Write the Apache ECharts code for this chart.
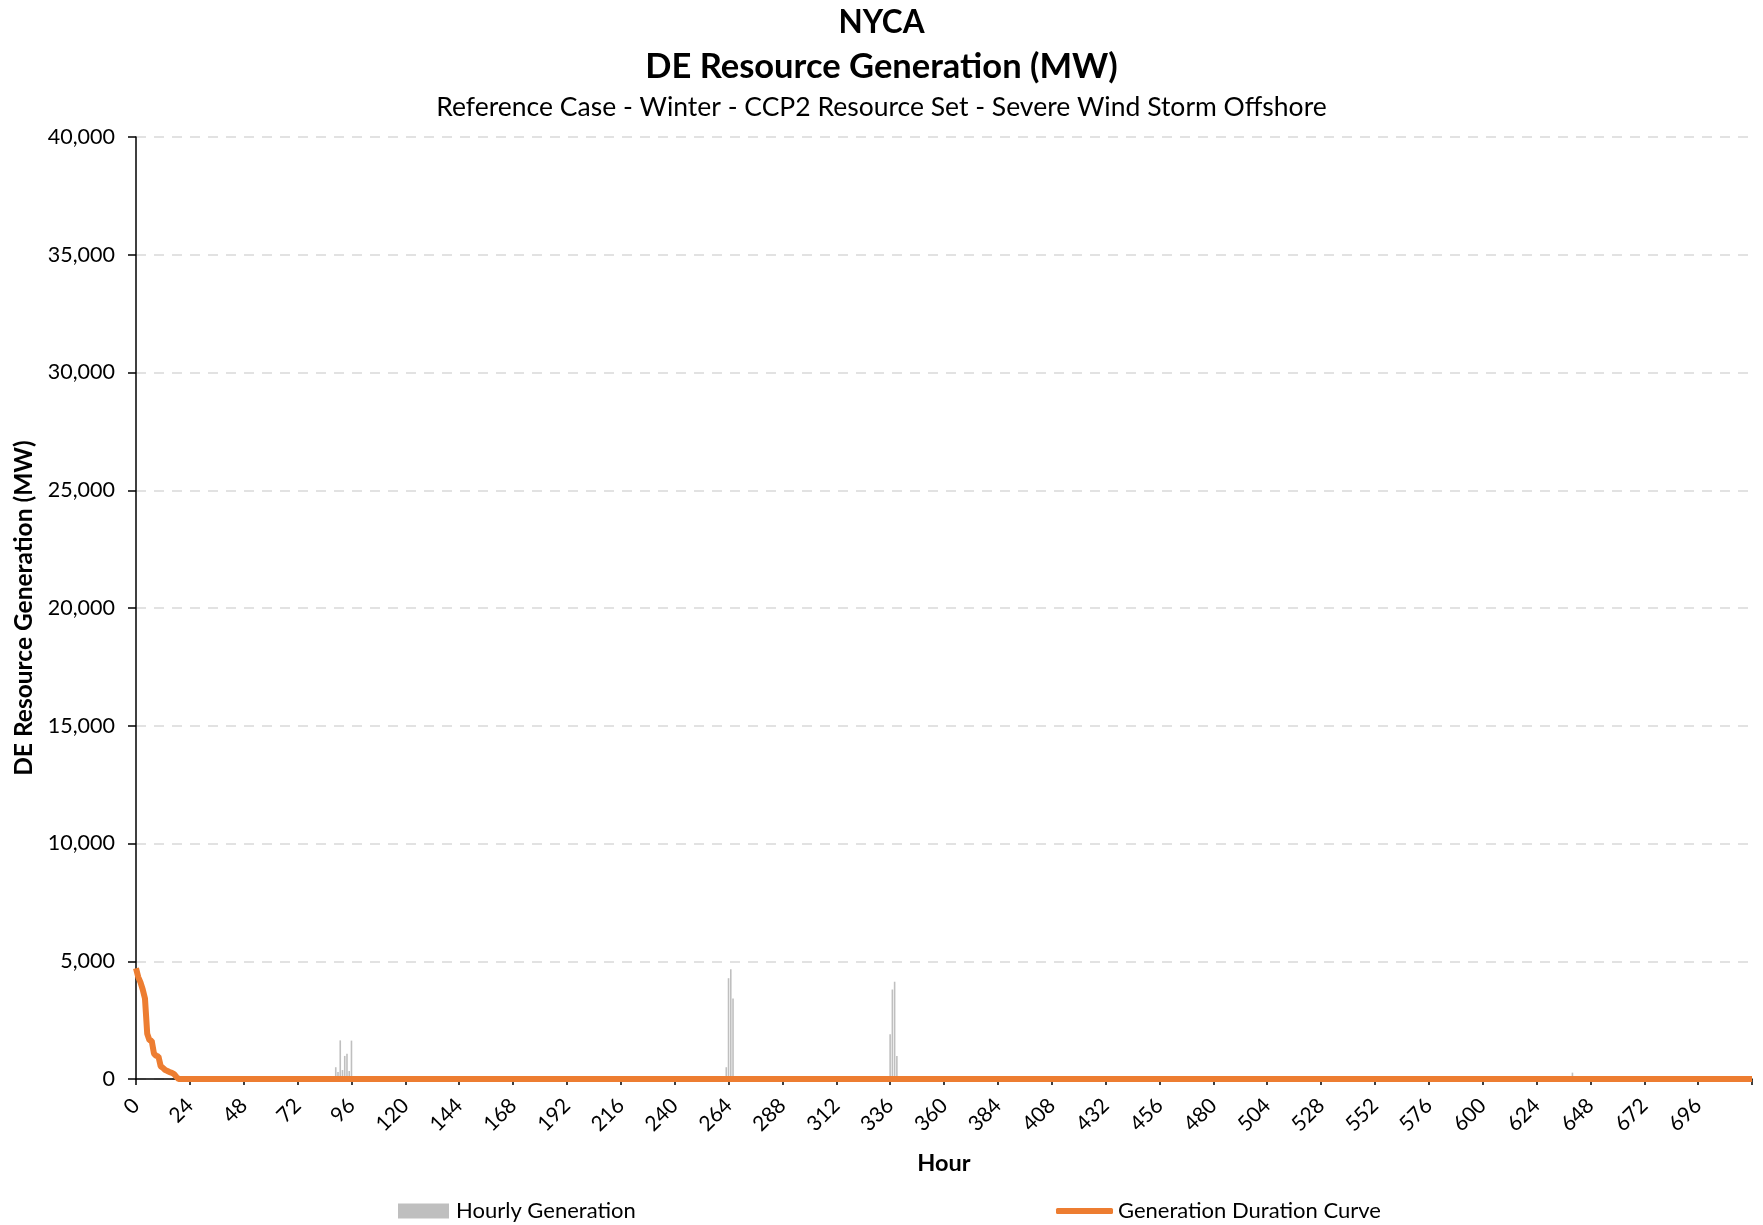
<!DOCTYPE html>
<html>
<head>
<meta charset="utf-8">
<script src="https://cdn.jsdelivr.net/npm/echarts@6/dist/echarts.min.js"></script>
<style>
html,body{margin:0;padding:0;background:#fff;}
#chart{width:1763px;height:1225px;}
</style>
</head>
<body>
<div id="chart"></div>
<script>
// Hourly generation (hour, MW) — only non-zero hours; all other hours are 0
const hourlyHours = [89, 90, 91, 92, 93, 94, 95, 96, 263, 264, 265, 266, 336, 337, 338, 339, 640];
const hourlyValues = [500, 300, 1640, 380, 980, 1070, 340, 1630, 500, 4280, 4660, 3420, 1900, 3800, 4130, 980, 270];

// Generation duration curve (rank hour, MW)
const durationHours = [0, 1, 2, 3, 4, 5, 6, 7, 8, 9, 10, 11, 12, 13, 14, 15, 16, 17, 18, 19, 720];
const durationValues = [4700, 4330, 4100, 3800, 3420, 1920, 1650, 1620, 1080, 980, 960, 540, 470, 380, 340, 290, 260, 210, 90, 0, 0];

const xTickInterval = 24;
const yTicks = ['0', '5,000', '10,000', '15,000', '20,000', '25,000', '30,000', '35,000', '40,000'];

const FONT = 'Lato';

const chart = echarts.init(document.getElementById('chart'), null, {renderer: 'canvas'});
chart.setOption({
  animation: false,
  backgroundColor: '#ffffff',
  textStyle: {fontFamily: FONT},
  title: [
    {text: 'NYCA', left: 'center', top: 2, textStyle: {fontFamily: FONT, fontSize: 31.5, fontWeight: 'bold', color: '#000'}},
    {text: 'DE Resource Generation (MW)', left: 'center', top: 44, textStyle: {fontFamily: FONT, fontSize: 34.5, fontWeight: 'bold', color: '#000'}},
    {text: 'Reference Case - Winter - CCP2 Resource Set - Severe Wind Storm Offshore', left: 'center', top: 89, textStyle: {fontFamily: FONT, fontSize: 26.5, fontWeight: 'normal', color: '#000'}}
  ],
  legend: [
    {data: ['Hourly Generation'], left: 393, top: 1195, itemWidth: 51, itemHeight: 15, itemGap: 6, icon: 'rect',
     textStyle: {fontFamily: FONT, fontSize: 22, color: '#000', padding: [0,0,0,2]}},
    {data: ['Generation Duration Curve'], left: 1051, top: 1195, itemWidth: 57, itemHeight: 6, itemGap: 6, icon: 'roundRect',
     textStyle: {fontFamily: FONT, fontSize: 22, color: '#000', padding: [0,0,0,0]}}
  ],
  grid: {left: 136, right: 11, top: 137, bottom: 146, containLabel: false, outerBoundsMode: 'none'},
  xAxis: {
    type: 'value', min: 0, max: 720, interval: xTickInterval,
    name: 'Hour', nameLocation: 'middle', nameGap: 72,
    nameTextStyle: {fontFamily: FONT, fontSize: 23.5, fontWeight: 'bold', color: '#000'},
    axisLine: {show: true, onZero: false, lineStyle: {color: '#000', width: 1.5}},
    axisTick: {show: true, length: 6, lineStyle: {color: '#000', width: 1.5}},
    axisLabel: {rotate: 45, fontFamily: FONT, fontSize: 21, color: '#000', margin: 23,
      formatter: v => (v >= 720 ? '' : String(v))},
    splitLine: {show: false}
  },
  yAxis: {
    type: 'value', min: 0, max: 40000, interval: 5000,
    name: 'DE Resource Generation (MW)', nameLocation: 'middle', nameGap: 97,
    nameTextStyle: {fontFamily: FONT, fontSize: 24.5, fontWeight: 'bold', color: '#000'},
    axisLine: {show: true, lineStyle: {color: '#000', width: 1.5}},
    axisTick: {show: true, length: 8, lineStyle: {color: '#000', width: 1.5}},
    axisLabel: {fontFamily: FONT, fontSize: 21.5, color: '#000', margin: 21,
      formatter: v => yTicks[Math.round(v / 5000)]},
    splitLine: {show: true, lineStyle: {color: '#d9d9d9', type: [10, 8], width: 1.5}}
  },
  series: [
    {
      name: 'Hourly Generation', type: 'bar', barWidth: 1.6,
      itemStyle: {color: '#bfbfbf'},
      data: hourlyHours.map((h, i) => [h, hourlyValues[i]]),
      z: 2
    },
    {
      name: 'Generation Duration Curve', type: 'line', showSymbol: false, symbol: 'none',
      lineStyle: {color: '#ED7D31', width: 6},
      itemStyle: {color: '#ED7D31'},
      data: durationHours.map((h, i) => [h, durationValues[i]]),
      z: 3
    }
  ]
});
</script>
</body>
</html>
